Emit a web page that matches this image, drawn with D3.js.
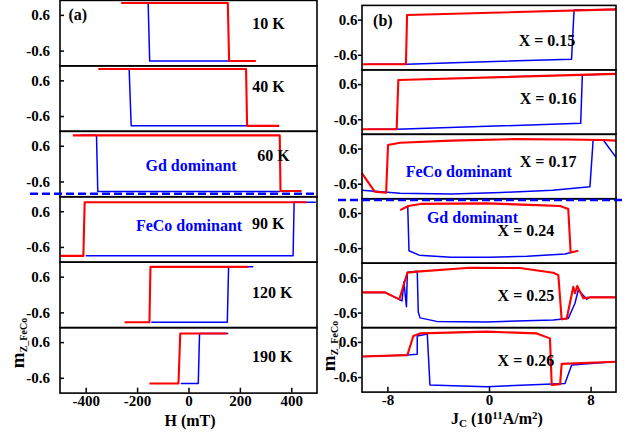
<!DOCTYPE html>
<html>
<head>
<meta charset="utf-8">
<title>mZ_FeCo loops</title>
<script src="https://cdn.jsdelivr.net/npm/d3@7"></script>
<style>
  body { margin: 0; background: #fff; }
  svg text { font-family: "Liberation Serif", "Times New Roman", serif; font-weight: bold; }
  .frame { fill: none; stroke: #000; stroke-width: 1.6; }
  .loop { fill: none; stroke-linejoin: round; }
  .axis text { font-size: 15px; fill: #000; }
  .axis line { stroke: #000; stroke-width: 1.5; }
</style>
</head>
<body>
<div id="graphe"></div>
<script>
// left column : field sweeps, one panel per temperature
var temps = ["10 K", "40 K", "60 K", "90 K", "120 K", "190 K"];
var hTicks = [-400, -200, 0, 200, 400];
var mTicks = [0.6, -0.6];

// [H (mT), m] ; red sweep then blue sweep
var redH = [
  [[-262, 1.0], [153, 1.0], [158, -0.95], [262, -0.95]],
  [[-351, 0.98], [224, 0.98], [228, -0.93], [353, -0.93]],
  [[-450, 0.95], [355, 0.95], [358, -0.92], [440, -0.92]],
  [[-500, -0.9], [-409, -0.9], [-404, 0.9], [459, 0.9]],
  [[-249, -0.93], [-152, -0.93], [-148, 0.93], [233, 0.93]],
  [[-152, -0.79], [-39, -0.79], [-32, 0.89], [149, 0.89]]
];
var blueH = [
  [[228, -0.95], [-151, -0.95], [-157, 1.0], [-230, 1.0]],
  [[226, -0.93], [-223, -0.93], [-231, 0.98], [-320, 0.98]],
  [[357, -0.94], [-353, -0.94], [-358, 0.95], [-420, 0.95]],
  [[495, 0.9], [411, 0.9], [407, -0.9], [-400, -0.9]],
  [[252, 0.93], [156, 0.93], [151, -0.93], [-145, -0.93]],
  [[155, 0.89], [43, 0.89], [38, -0.79], [-30, -0.79]]
];

// right column : current sweeps, one panel per composition
var comps = ["X = 0.15", "X = 0.16", "X = 0.17", "X = 0.24", "X = 0.25", "X = 0.26"];
var jTicks = [-8, 0, 8];

var redJ = [
  [[-10, -0.92], [-6.54, -0.92], [-6.45, 0.76], [10, 0.95]],
  [[-10, -0.94], [-7.27, -0.94], [-7.14, 0.74], [10, 0.95]],
  [[-10, -0.25], [-9, -0.87], [-8.1, -0.91], [-7.95, 0.72], [-7, 0.8], [-3, 0.87], [2, 0.92], [6, 0.91], [9, 0.89], [10, 0.87]],
  [[-7.0, 0.70], [-6.35, 0.84], [-5.4, 0.91], [-0.2, 0.93], [3.8, 0.87], [5.6, 0.84], [6.24, 0.74], [6.43, -0.75], [7.03, -0.69]],
  [[-10, 0.09], [-8.19, 0.09], [-7.06, -0.15], [-6.43, 0.76], [-5.69, 0.80], [-1.5, 0.93], [2.44, 0.92], [5.06, 0.76], [5.46, 0.68],
   [5.72, -0.83], [6.12, -0.80], [6.64, 0.28], [6.77, 0.06], [6.95, 0.31], [7.43, -0.11], [7.95, -0.08], [10, -0.08]],
  [[-10, 0.10], [-6.43, 0.15], [-5.96, 0.80], [-5.43, 0.89], [-0.18, 0.95], [3.76, 0.89], [4.8, 0.72], [4.94, -0.87], [5.6, -0.84],
   [5.72, -0.15], [10, -0.08]]
];
var blueJ = [
  [[10, 0.95], [6.7, 0.93], [6.5, -0.75], [-6.5, -0.92], [-9.5, -0.92]],
  [[9.8, 0.95], [7.35, 0.91], [7.22, -0.74], [-7.27, -0.94], [-9.5, -0.94]],
  [[10, 0.30], [9, 0.89], [8.2, 0.89], [7.95, -0.70], [5, -0.82], [1, -0.9], [-3, -0.95], [-7, -0.93], [-10, -0.82]],
  [[6.43, -0.75], [6, -0.80], [3, -0.88], [0, -0.91], [-3, -0.91], [-5.5, -0.84], [-6.3, -0.69], [-6.4, 0.84]],
  [[9.8, -0.08], [7.95, -0.08], [7.69, -0.14], [7.03, 0.17], [6.77, -0.28], [6.24, -0.80], [5.06, -0.85], [-0.18, -0.92],
   [-4.12, -0.9], [-5.43, -0.78], [-5.57, -0.58], [-5.65, 0.81], [-6.43, 0.78], [-6.5, -0.4], [-6.7, 0.45], [-6.85, -0.2],
   [-8.19, 0.09], [-9.8, 0.09]],
  [[9.8, -0.08], [6.51, -0.19], [5.98, -0.82], [-0.18, -0.93], [-2.81, -0.9], [-4.65, -0.87], [-4.86, 0.87], [-5.65, 0.80],
   [-5.65, 0.18], [-6.43, 0.15], [-9.8, 0.10]]
];

// annotations : [panel, x value, m value, text, kind]
var leftNotes = [[0, -467, 0.63, "(a)", "start"], [2, 10, -0.05, "Gd dominant", "blue"], [3, 2, 0.14, "FeCo dominant", "blue"]];
var tempPos = [[311, 0.33], [311, 0.39], [331, 0.27], [310, 0.19], [326, 0.07], [326, 0.11]];
var rightNotes = [[0, -9.13, 0.59, "(b)", "start"], [2, -2.38, -0.19, "FeCo dominant", "blue"], [3, -1.3, 0.45, "Gd dominant", "blue"]];
var compPos = [[4.57, -0.10], [4.65, 0.12], [4.65, 0.15], [2.91, 0], [2.91, 0], [2.91, -0.02]];

var W = 641, H = 436;
var svg = d3.select("#graphe").append("svg").attr("width", W).attr("height", H);

// plain hyphen for negative numbers, like the original
function fmt(f) {
  return function(d) { return d3.format(f)(d).replace("\u2212", "-"); };
}

function column(opt) {
  var band = d3.scaleBand().domain(d3.range(6)).range([opt.top, opt.bottom]);
  var h = band.bandwidth();
  var x = d3.scaleLinear().domain(opt.xDomain).range([opt.x0, opt.x1]);
  var g = svg.append("g");

  for (var k = 0; k < 6; k++) {
    var y = d3.scaleLinear().domain([-1.1, 1.1]).range([band(k) + h, band(k)]);
    var line = d3.line().x(function(d) { return x(d[0]); }).y(function(d) { return y(d[1]); });
    var p = g.append("g");

    // red a bit wider so that it hides the blue sweep lying under it
    p.append("path").attr("class", "loop").attr("stroke", "#0000ff").attr("stroke-width", 1.5).attr("d", line(opt.blue[k]));
    p.append("path").attr("class", "loop").attr("stroke", "#ff0000").attr("stroke-width", 2.1).attr("d", line(opt.red[k]));

    var ax = p.append("g").attr("class", "axis").attr("transform", "translate(" + opt.x0 + ",0)")
      .call(d3.axisLeft(y).tickValues(mTicks).tickFormat(fmt(".1f"))
        .tickSizeInner(opt.yTick).tickSizeOuter(0).tickPadding(opt.yPad));
    ax.select(".domain").remove();

    if (k === 5) {
      var bx = p.append("g").attr("class", "axis").attr("transform", "translate(0," + (band(k) + h) + ")")
        .call(d3.axisBottom(x).tickValues(opt.xTicks).tickFormat(fmt("d"))
          .tickSizeInner(-5).tickSizeOuter(0).tickPadding(2.5));
      bx.select(".domain").remove();
    }

    p.append("rect").attr("class", "frame")
      .attr("x", opt.x0).attr("y", band(k) + 0.4).attr("width", opt.x1 - opt.x0).attr("height", h);

    p.append("text").attr("x", x(opt.labelPos[k][0])).attr("y", y(opt.labelPos[k][1]))
      .attr("dy", "0.35em").attr("text-anchor", "middle").style("font-size", "16px")
      .text(opt.labels[k]);

    opt.notes.filter(function(n) { return n[0] === k; }).forEach(function(n) {
      p.append("text").attr("x", x(n[1])).attr("y", y(n[2])).attr("dy", "0.35em")
        .attr("text-anchor", n[4] === "start" ? "start" : "middle")
        .attr("fill", n[4] === "blue" ? "#0000ff" : "#000")
        .style("font-size", "16px").text(n[3]);
    });
  }

  // dashed separator between panels 3 and 4
  svg.append("line").attr("x1", opt.dash[0]).attr("x2", opt.dash[1])
    .attr("y1", band(3) + opt.dash[2]).attr("y2", band(3) + opt.dash[2])
    .attr("stroke", "#0000ff").attr("stroke-width", 2.6).attr("stroke-dasharray", "8,4");

  return { x: x, band: band, h: h };
}

var left = column({
  top: 0, bottom: 392.7, x0: 60, x1: 317, xDomain: [-500, 500], xTicks: hTicks,
  red: redH, blue: blueH, labels: temps, labelPos: tempPos, notes: leftNotes,
  yTick: -4, yPad: 10, dash: [30, 318, -2.6]
});
var right = column({
  top: 5, bottom: 391.7, x0: 362, x1: 616, xDomain: [-10, 10], xTicks: jTicks,
  red: redJ, blue: blueJ, labels: comps, labelPos: compPos, notes: rightNotes,
  yTick: 4, yPad: 0.5, dash: [338, 625, 1.6]
});

// axis titles
svg.append("text").attr("x", 190).attr("y", 425.5).attr("text-anchor", "middle")
  .style("font-size", "16px").text("H (mT)");

var jt = svg.append("text").attr("x", 497).attr("y", 423.5).attr("text-anchor", "middle").style("font-size", "16px");
jt.append("tspan").text("J");
jt.append("tspan").attr("dy", 3).style("font-size", "11px").text("C");
jt.append("tspan").attr("dy", -3).text(" (10");
jt.append("tspan").attr("dy", -5).style("font-size", "11px").text("11");
jt.append("tspan").attr("dy", 5).text("A/m");
jt.append("tspan").attr("dy", -5).style("font-size", "11px").text("2");
jt.append("tspan").attr("dy", 5).text(")");

[[24, 343], [335, 346]].forEach(function(c) {
  var t = svg.append("text").attr("transform", "translate(" + c[0] + "," + c[1] + ") rotate(-90)")
    .attr("text-anchor", "middle").style("font-size", "19px");
  t.append("tspan").text("m");
  t.append("tspan").attr("dy", 3).style("font-size", "10px").text("Z_FeCo");
});
</script>
</body>
</html>
